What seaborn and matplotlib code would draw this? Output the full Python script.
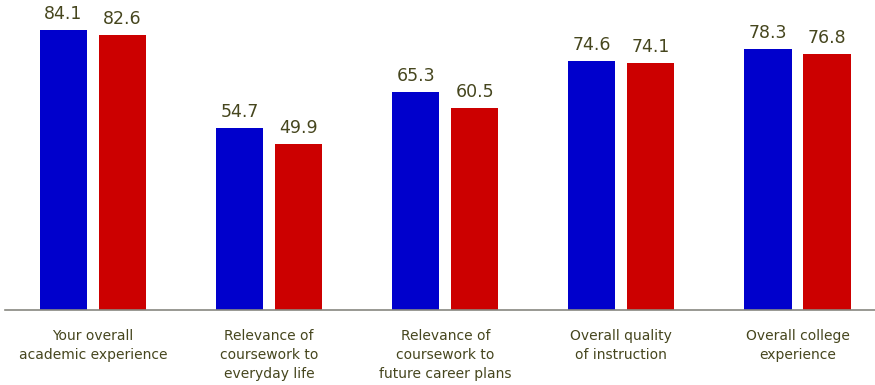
import matplotlib
matplotlib.use("Agg")
import matplotlib.pyplot as plt
import seaborn as sns
import pandas as pd

categories = ["Your overall\nacademic experience",
              "Relevance of\ncoursework to\neveryday life",
              "Relevance of\ncoursework to\nfuture career plans",
              "Overall quality\nof instruction",
              "Overall college\nexperience"]
series_names = ["Series A", "Series B"]
values_a = [84.1, 54.7, 65.3, 74.6, 78.3]
values_b = [82.6, 49.9, 60.5, 74.1, 76.8]

df = pd.DataFrame({
    "category": categories * 2,
    "series": [series_names[0]] * len(categories) + [series_names[1]] * len(categories),
    "value": values_a + values_b,
})

sns.set_theme(style="white")
plt.rcParams["font.family"] = ["DejaVu Sans"]

text_color = "#46461e"
fig = plt.figure(figsize=(8.75, 3.85), dpi=100)
ax = fig.add_axes([5 / 875, 75 / 385, 870 / 875, 310 / 385])

sns.barplot(data=df, x="category", y="value", hue="series", order=categories,
            hue_order=series_names, palette=["#0000cc", "#cc0000"],
            width=0.67, gap=0.2, legend=False, ax=ax, saturation=1,
            linewidth=0, edgecolor="none")

for cont in ax.containers:
    ax.bar_label(cont, labels=[f"{v:.1f}" for v in cont.datavalues],
                 padding=5, color=text_color, fontsize=12.5)

ax.set_xlim(-0.5, 4.44)
ax.set_ylim(0, 93)
ax.set_xlabel("")
ax.set_ylabel("")
ax.set_yticks([])
for s in ["top", "right", "left"]:
    ax.spines[s].set_visible(False)
ax.spines["bottom"].set_color("#888880")
ax.spines["bottom"].set_linewidth(1.2)
ax.tick_params(axis="x", length=0, pad=14, labelsize=10, labelcolor=text_color)
for lbl in ax.get_xticklabels():
    lbl.set_linespacing(1.45)

fig.savefig("out.png", dpi=100)
